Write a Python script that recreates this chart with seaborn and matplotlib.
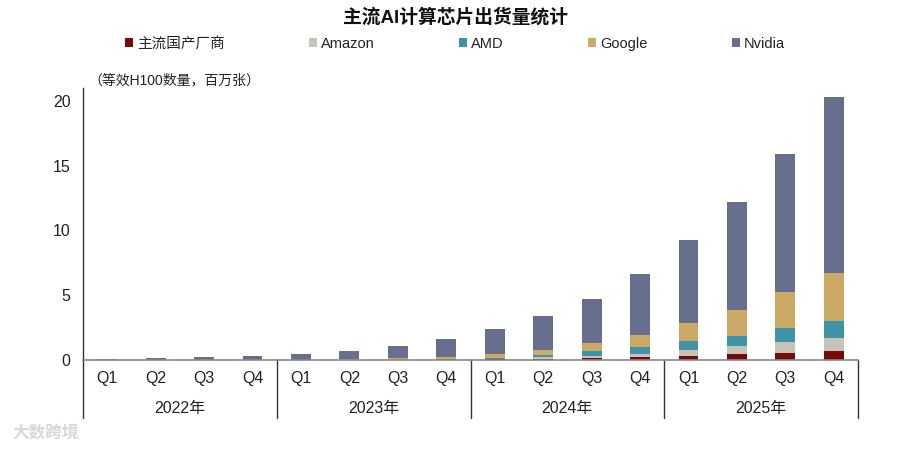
import matplotlib
matplotlib.use("Agg")
import matplotlib.pyplot as plt
import matplotlib.transforms as mtransforms
from matplotlib.patches import Patch
from matplotlib.lines import Line2D
import numpy as np
import pandas as pd
import seaborn as sns

sns.set_style("white")
plt.rcParams['font.family'] = ['Liberation Sans', 'Noto Sans CJK SC', 'DejaVu Sans']

# ---- data ----
years = ["2022年", "2023年", "2024年", "2025年"]
quarters = ["Q1", "Q2", "Q3", "Q4"]
series = ["主流国产厂商", "Amazon", "AMD", "Google", "Nvidia"]
colors = ["#760A0A", "#C6C4B8", "#3F93A6", "#CCAA66", "#676E8E"]

domestic = [0, 0, 0, 0,   0, 0, 0, 0.01,   0.08, 0.08, 0.18, 0.23,   0.28, 0.43, 0.56, 0.72]
amazon   = [0, 0, 0, 0,   0, 0, 0.01, 0.02, 0.03, 0.12, 0.13, 0.26,   0.49, 0.62, 0.80, 1.00]
amd      = [0, 0, 0, 0,   0, 0, 0.01, 0.02, 0.04, 0.16, 0.35, 0.51,   0.67, 0.80, 1.08, 1.31]
google   = [0, 0, 0, 0.01, 0.02, 0.04, 0.12, 0.22, 0.28, 0.44, 0.62, 0.93, 1.42, 2.03, 2.81, 3.66]
nvidia   = [0.08, 0.15, 0.22, 0.30, 0.41, 0.62, 0.96, 1.33, 1.99, 2.62, 3.45, 4.73, 6.41, 8.32, 10.63, 13.59]

values = [domestic, amazon, amd, google, nvidia]
labels = [f"{y}{q}" for y in years for q in quarters]

# ---- figure ----
fig = plt.figure(figsize=(9, 4.5), dpi=100)
ax = fig.add_axes([83/900, 1-360/450, (858-83)/900, (360-88)/450])

cum = np.cumsum(np.array(values), axis=0)
# draw from the top of the stack down so lower segments overlay
for i in range(len(series)-1, -1, -1):
    df = pd.DataFrame({"x": labels, "y": cum[i]})
    sns.barplot(data=df, x="x", y="y", order=labels, color=colors[i],
                saturation=1, width=0.41, ax=ax, linewidth=0)

ax.set_xlim(-0.5, len(labels)-0.5)
ax.set_ylim(0, 21)
ax.set_yticks([0, 5, 10, 15, 20])
ax.set_yticklabels(["0", "5", "10", "15", "20"], fontsize=11.5, color="#222222")
ax.set_xticks(range(len(labels)))
ax.set_xticklabels([q for y in years for q in quarters], fontsize=11.5, color="#222222")
ax.tick_params(axis="both", length=0)
ax.tick_params(axis="x", pad=8)
ax.tick_params(axis="y", pad=9)
ax.set_xlabel("")
ax.set_ylabel("")
for s in ["top", "right"]:
    ax.spines[s].set_visible(False)
ax.spines["left"].set_color("#333333")
ax.spines["left"].set_linewidth(1.0)
ax.spines["bottom"].set_color("#888888")
ax.spines["bottom"].set_linewidth(1.2)

# year group labels and separators
trans = mtransforms.blended_transform_factory(ax.transData, ax.transAxes)
ybot = -(418-360)/(360-88)
for k, yname in enumerate(years):
    ax.text(k*4 + 1.5, -(408-360)/(360-88), yname, transform=trans,
            ha="center", va="center", fontsize=11.5, color="#222222")
for k in range(len(years)+1):
    xs = k*4 - 0.5
    ax.add_line(Line2D([xs, xs], [0, ybot], transform=trans, color="#333333",
                       linewidth=1.0, clip_on=False))

# unit note
fig.text(88/900, 1-80/450, "（等效H100数量，百万张）", fontsize=10, color="#222222",
         ha="left", va="center")

# title
fig.text(455/900, 1-17/450, "主流AI计算芯片出货量统计", fontsize=13.5, fontweight="bold",
         ha="center", va="center", color="#111111")

# legend
handles = [Patch(facecolor=c, edgecolor="none") for c in colors]
leg = fig.legend(handles, series, loc="center", bbox_to_anchor=(455/900, 1-44/450),
                 ncol=5, frameon=False, fontsize=10.5, handlelength=0.55,
                 handleheight=0.55, handletextpad=0.25, columnspacing=5.8)
for t in leg.get_texts():
    t.set_color("#222222")

# watermark
fig.text(12/900, 1-432/450, "大数跨境", fontsize=12, color="#d8d8d8",
         ha="left", va="center", fontweight="bold")

fig.savefig("out.png", dpi=100)
